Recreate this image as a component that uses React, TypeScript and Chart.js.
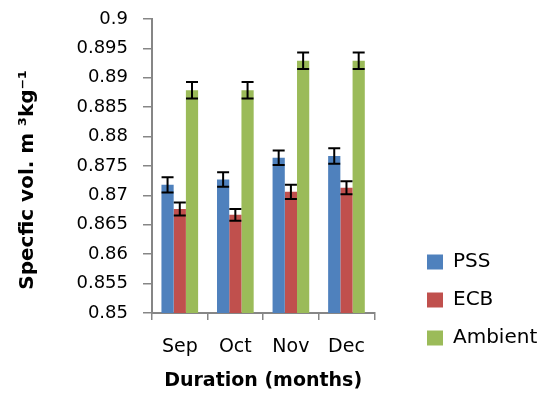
import React, { useEffect, useRef } from "react";
import { Chart, registerables } from "chart.js";

Chart.register(...registerables);

const categories = ["Sep", "Oct", "Nov", "Dec"];
const seriesNames = ["PSS", "ECB", "Ambient"];
const pssValues = [0.8718, 0.8727, 0.8764, 0.8767];
const pssErrors = [0.0013, 0.00125, 0.00125, 0.0013];
const ecbValues = [0.8677, 0.8667, 0.8706, 0.8713];
const ecbErrors = [0.0011, 0.001, 0.0012, 0.0011];
const ambientValues = [0.8879, 0.8879, 0.8929, 0.8929];
const ambientErrors = [0.0014, 0.0014, 0.0014, 0.0014];
const yMin = 0.85;
const yMax = 0.9;
const yStep = 0.005;
const xTitle = "Duration (months)";
const yTitle = "Specfic vol. m \u00B3kg\u207B\u00B9    ";

const colors = ["#4F81BD", "#C0504D", "#9BBB59"];
const FONT = "'DejaVu Sans', 'Open Sans', sans-serif";

const errorLists = [pssErrors, ecbErrors, ambientErrors];

const errorBarPlugin = {
  id: "errorBars",
  afterDatasetsDraw(chart: any) {
    const ctx = chart.ctx;
    const y = chart.scales.y;
    chart.data.datasets.forEach((ds: any, i: number) => {
      const meta = chart.getDatasetMeta(i);
      const errs = errorLists[i];
      meta.data.forEach((bar: any, j: number) => {
        const v = ds.data[j];
        const e = errs[j];
        const top = y.getPixelForValue(v + e);
        const bot = y.getPixelForValue(v - e);
        const x = bar.x;
        const hw = 6;
        ctx.save();
        ctx.strokeStyle = "#000";
        ctx.lineWidth = 2;
        ctx.beginPath();
        ctx.moveTo(x, top);
        ctx.lineTo(x, bot);
        ctx.moveTo(x - hw, top);
        ctx.lineTo(x + hw, top);
        ctx.moveTo(x - hw, bot);
        ctx.lineTo(x + hw, bot);
        ctx.stroke();
        ctx.restore();
      });
    });
  },
};

const legendPlacePlugin = {
  id: "legendPlace",
  afterLayout(chart: any) {
    const lg = chart.legend;
    if (!lg) return;
    lg.left = 409;
    lg.right = 547;
    lg.top = 234;
    lg.bottom = 390;
  },
};

export default function App() {
  const canvasRef = useRef<HTMLCanvasElement | null>(null);

  useEffect(() => {
    if (!canvasRef.current) return;
    const chart = new Chart(canvasRef.current, {
      type: "bar",
      data: {
        labels: categories,
        datasets: [
          { label: seriesNames[0], data: pssValues, backgroundColor: colors[0] },
          { label: seriesNames[1], data: ecbValues, backgroundColor: colors[1] },
          { label: seriesNames[2], data: ambientValues, backgroundColor: colors[2] },
        ],
      },
      options: {
        responsive: false,
        animation: false,
        layout: { padding: { top: 19, left: 0, right: 48, bottom: 0 } },
        datasets: {
          bar: { categoryPercentage: 0.66, barPercentage: 1.0 },
        },
        plugins: {
          tooltip: { enabled: false },
          legend: {
            position: "right",
            align: "start",
            labels: {
              boxWidth: 16,
              boxHeight: 15,
              padding: 18,
              color: "#000",
              font: { family: FONT, size: 20 },
            },
          },
        },
        scales: {
          x: {
            afterFit(scale: any) {
              scale.height = 87;
              scale.paddingTop = 0;
            },
            grid: {
              drawOnChartArea: false,
              offset: true,
              tickLength: 7,
              color: "#868686",
              lineWidth: 1.5,
            },
            border: { color: "#868686", width: 2 },
            ticks: {
              color: "#000",
              padding: 16,
              font: { family: FONT, size: 19 },
            },
            title: {
              display: true,
              text: xTitle,
              color: "#000",
              padding: { top: 0, bottom: 8 },
              font: { family: FONT, size: 19, weight: "bold" },
            },
          },
          y: {
            min: yMin,
            max: yMax,
            afterFit(scale: any) {
              scale.width = 152;
              scale.paddingTop = 10;
              scale.paddingBottom = 10;
            },
            grid: {
              drawOnChartArea: false,
              tickLength: 9,
              color: "#868686",
              lineWidth: 1.5,
            },
            border: { color: "#868686", width: 2 },
            ticks: {
              stepSize: yStep,
              color: "#000",
              padding: 15,
              font: { family: FONT, size: 18 },
              callback: (v: any) => String(parseFloat(Number(v).toFixed(3))),
            },
            title: {
              display: true,
              text: yTitle,
              color: "#000",
              padding: { top: 16, bottom: 0 },
              font: { family: FONT, size: 20, weight: "bold" },
            },
          },
        },
      },
      plugins: [errorBarPlugin, legendPlacePlugin],
    });
    return () => chart.destroy();
  }, []);

  return (
    <div style={{ position: "fixed", left: 0, top: 0, width: 547, height: 400, background: "#fff" }}>
      <canvas ref={canvasRef} width={547} height={400} />
    </div>
  );
}
